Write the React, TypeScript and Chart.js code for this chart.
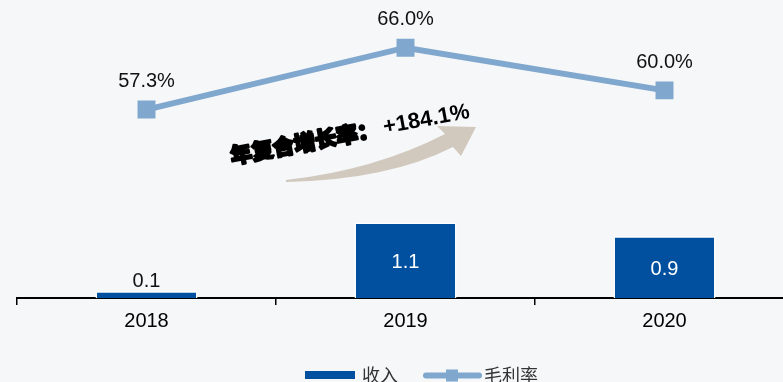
import React, { useEffect, useRef } from 'react';
import { Chart, registerables } from 'chart.js';

Chart.register(...registerables);

const categories = ['2018', '2019', '2020'];
const revenue = [0.1, 1.1, 0.9];
const grossMargin = [57.3, 66.0, 60.0];
const revenueLabel = '收入';
const marginLabel = '毛利率';
const cagrText = '年复合增长率：';
const cagrValue = '+184.1%';

const BAR = '#00509f';
const LINE = '#80a7cd';
const BG = '#f6f7f9';
const ARROW = '#d1c9be';
const LATIN = '"Liberation Sans", Arial, sans-serif';
const CJK = '"Noto Sans CJK SC", sans-serif';

const bgPlugin = {
  id: 'bg',
  beforeDraw(chart: any) {
    const { ctx, width, height } = chart;
    ctx.save();
    ctx.fillStyle = BG;
    ctx.fillRect(0, 0, width, height);
    ctx.restore();
  },
};

const labelPlugin = {
  id: 'valueLabels',
  afterDatasetsDraw(chart: any) {
    const { ctx } = chart;
    ctx.save();
    ctx.font = `20px ${LATIN}`;
    ctx.textAlign = 'center';
    ctx.textBaseline = 'middle';
    chart.data.datasets.forEach((ds: any, di: number) => {
      const meta = chart.getDatasetMeta(di);
      meta.data.forEach((el: any, i: number) => {
        const v = ds.data[i];
        if (ds.type === 'bar') {
          const h = el.base - el.y;
          if (h > 30) {
            ctx.fillStyle = '#ffffff';
            ctx.fillText(v.toFixed(1), el.x, (el.y + el.base) / 2 + 2);
          } else {
            ctx.fillStyle = '#111111';
            ctx.fillText(v.toFixed(1), el.x, el.y - 10);
          }
        } else {
          ctx.fillStyle = '#111111';
          ctx.fillText(v.toFixed(1) + '%', el.x, el.y - 28);
        }
      });
    });
    ctx.restore();
  },
};

const annotationPlugin = {
  id: 'cagr',
  afterDatasetsDraw(chart: any) {
    const { ctx } = chart;
    ctx.save();
    // curved arrow
    ctx.fillStyle = ARROW;
    ctx.beginPath();
    ctx.moveTo(286, 180);
    ctx.quadraticCurveTo(375, 170, 445, 134);
    ctx.lineTo(437, 126);
    ctx.lineTo(476, 127);
    ctx.lineTo(461, 156);
    ctx.lineTo(453, 147);
    ctx.quadraticCurveTo(388, 180, 286, 182);
    ctx.closePath();
    ctx.fill();

    // rotated text
    ctx.translate(232, 164);
    ctx.rotate((-10.5 * Math.PI) / 180);
    ctx.textBaseline = 'alphabetic';
    ctx.textAlign = 'left';
    ctx.fillStyle = '#000';
    ctx.strokeStyle = '#000';
    ctx.font = `900 21.5px ${CJK}`;
    ctx.lineWidth = 2.2;
    ctx.lineJoin = 'round';
    ctx.strokeText(cagrText, 0, 0);
    ctx.fillText(cagrText, 0, 0);
    const w = ctx.measureText(cagrText).width;
    ctx.font = `bold 22px ${LATIN}`;
    ctx.fillText(cagrValue, w + 5, -2);
    ctx.restore();
  },
};

const legendPlugin = {
  id: 'customLegend',
  afterDraw(chart: any) {
    const { ctx } = chart;
    const y = 375;
    ctx.save();
    ctx.fillStyle = BAR;
    ctx.fillRect(305, y - 4, 50, 8);
    ctx.font = `18px ${CJK}`;
    ctx.fillStyle = '#333';
    ctx.textBaseline = 'middle';
    ctx.textAlign = 'left';
    ctx.fillText(chart.data.datasets[1].label, 362, y);

    ctx.strokeStyle = LINE;
    ctx.lineWidth = 6;
    ctx.lineCap = 'round';
    ctx.beginPath();
    ctx.moveTo(426, y + 0.5);
    ctx.lineTo(479, y + 0.5);
    ctx.stroke();
    ctx.fillStyle = LINE;
    ctx.fillRect(446, y - 5.5, 12, 12);
    ctx.fillStyle = '#333';
    ctx.fillText(chart.data.datasets[0].label, 484, y);
    ctx.restore();
  },
};

export default function App() {
  const ref = useRef<HTMLCanvasElement | null>(null);

  useEffect(() => {
    if (!ref.current) return;
    const chart = new Chart(ref.current, {
      type: 'bar',
      data: {
        labels: categories,
        datasets: [
          {
            type: 'line',
            label: marginLabel,
            data: grossMargin,
            yAxisID: 'y1',
            borderColor: LINE,
            backgroundColor: LINE,
            borderWidth: 6,
            pointStyle: 'rect',
            pointRadius: 12.7,
            pointBorderWidth: 0,
            pointBackgroundColor: LINE,
            tension: 0,
            order: 0,
          } as any,
          {
            type: 'bar',
            label: revenueLabel,
            data: revenue,
            yAxisID: 'y',
            backgroundColor: BAR,
            borderColor: '#ffffff',
            borderWidth: 1.5,
            categoryPercentage: 1,
            barPercentage: 0.394,
            order: 1,
          } as any,
        ],
      },
      options: {
        responsive: false,
        maintainAspectRatio: false,
        animation: false,
        layout: { autoPadding: false, padding: { top: 10, left: 17, right: 2, bottom: 45 } },
        plugins: {
          legend: { display: false },
          tooltip: { enabled: false },
        },
        scales: {
          x: {
            offset: true,
            grid: {
              offset: true,
              drawOnChartArea: false,
              drawTicks: true,
              tickLength: 7,
              color: '#000',
              lineWidth: 1.5,
            },
            border: { display: true, color: '#000', width: 2 },
            ticks: {
              color: '#000',
              padding: 4,
              font: { family: LATIN, size: 20 },
            },
          },
          y: { display: false, min: 0, max: 4.2 },
          y1: { display: false, min: 30.8, max: 71.3, position: 'right' },
        },
      },
      plugins: [bgPlugin, labelPlugin, annotationPlugin, legendPlugin],
    });
    return () => chart.destroy();
  }, []);

  return (
    <div
      style={{
        position: 'fixed',
        left: 0,
        top: 0,
        width: 783,
        height: 382,
        overflow: 'hidden',
        background: BG,
      }}
    >
      <div style={{ width: 796, height: 382 }}>
        <canvas
          ref={ref}
          width={796}
          height={382}
          style={{ display: 'block', width: 796, height: 382 }}
        />
      </div>
    </div>
  );
}
